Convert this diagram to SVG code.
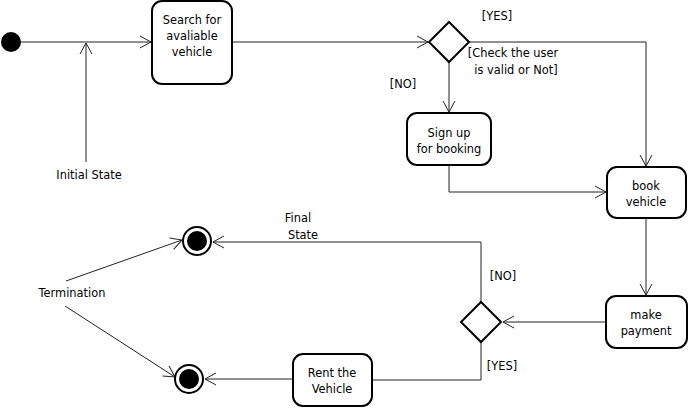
<svg xmlns="http://www.w3.org/2000/svg" width="688" height="408" viewBox="0 0 688 408">
<style>
.box{fill:#fff;stroke:#000;stroke-width:2}
.dia{fill:#fff;stroke:#000;stroke-width:2}
.t{font-family:"DejaVu Sans",Tahoma,sans-serif;font-size:11.4px;fill:#000;text-anchor:middle}
.c{fill:none;stroke:#222;stroke-width:1}
</style>
<defs>
<marker id="a" markerWidth="14" markerHeight="14" refX="12" refY="7" orient="auto" markerUnits="userSpaceOnUse">
<path d="M1,1 L12,7 L1,13" fill="none" stroke="#222" stroke-width="1"/>
</marker>
</defs>
<rect width="688" height="408" fill="#fff"/>
<g id="connectors">
<path class="c" d="M21,42 H151" marker-end="url(#a)"/>
<path class="c" d="M86,162 V43" marker-end="url(#a)"/>
<path class="c" d="M232,42 H428" marker-end="url(#a)"/>
<path class="c" d="M469,42 H646 V166" marker-end="url(#a)"/>
<path class="c" d="M449,62 V112" marker-end="url(#a)"/>
<path class="c" d="M449,165 V192 H606" marker-end="url(#a)"/>
<path class="c" d="M646,218 V295" marker-end="url(#a)"/>
<path class="c" d="M606,322 H503" marker-end="url(#a)"/>
<path class="c" d="M481,302 V242 H213" marker-end="url(#a)"/>
<path class="c" d="M481,342 V380 H372"/>
<path class="c" d="M293,379 H205" marker-end="url(#a)"/>
<path class="c" d="M66,281 L182,240" marker-end="url(#a)"/>
<path class="c" d="M65,306 L175,377" marker-end="url(#a)"/>
</g>
<g id="start"><circle cx="11" cy="42" r="10" fill="#000"/></g>
<g id="search"><rect class="box" x="152" y="1" width="80" height="83" rx="10"/>
<text class="t" x="192" y="24">Search for</text><text class="t" x="192" y="40">avaliable</text><text class="t" x="192" y="56">vehicle</text></g>
<g id="check"><polygon class="dia" points="449,22 469,42 449,62 429,42"/></g>
<g id="signup"><rect class="box" x="407" y="113" width="84" height="52" rx="10"/>
<text class="t" x="449" y="137">Sign up</text><text class="t" x="449" y="153">for booking</text></g>
<g id="book"><rect class="box" x="607" y="167" width="79" height="51" rx="10"/>
<text class="t" x="646" y="190">book</text><text class="t" x="646" y="206">vehicle</text></g>
<g id="payment"><rect class="box" x="606" y="296" width="81" height="52" rx="10"/>
<text class="t" x="646" y="319">make</text><text class="t" x="646" y="335">payment</text></g>
<g id="decision2"><polygon class="dia" points="481,302 501,322 481,342 461,322"/></g>
<g id="rent"><rect class="box" x="293" y="354" width="79" height="52" rx="10"/>
<text class="t" x="332" y="377">Rent the</text><text class="t" x="332" y="393">Vehicle</text></g>
<g id="final1"><circle cx="197" cy="241" r="14" fill="#fff" stroke="#000" stroke-width="2"/><circle cx="197" cy="241" r="10" fill="#000"/></g>
<g id="final2"><circle cx="189" cy="379" r="14" fill="#fff" stroke="#000" stroke-width="2"/><circle cx="189" cy="379" r="10" fill="#000"/></g>
<g id="labels">
<text class="t" x="89" y="179">Initial State</text>
<text class="t" x="497" y="20">[YES]</text>
<text class="t" x="513" y="57">[Check the user</text>
<text class="t" x="516" y="74">is valid or Not]</text>
<text class="t" x="403" y="88">[NO]</text>
<text class="t" x="298" y="222">Final</text>
<text class="t" x="303" y="239">State</text>
<text class="t" x="72" y="297">Termination</text>
<text class="t" x="503" y="280">[NO]</text>
<text class="t" x="502" y="370">[YES]</text>
</g>
</svg>
